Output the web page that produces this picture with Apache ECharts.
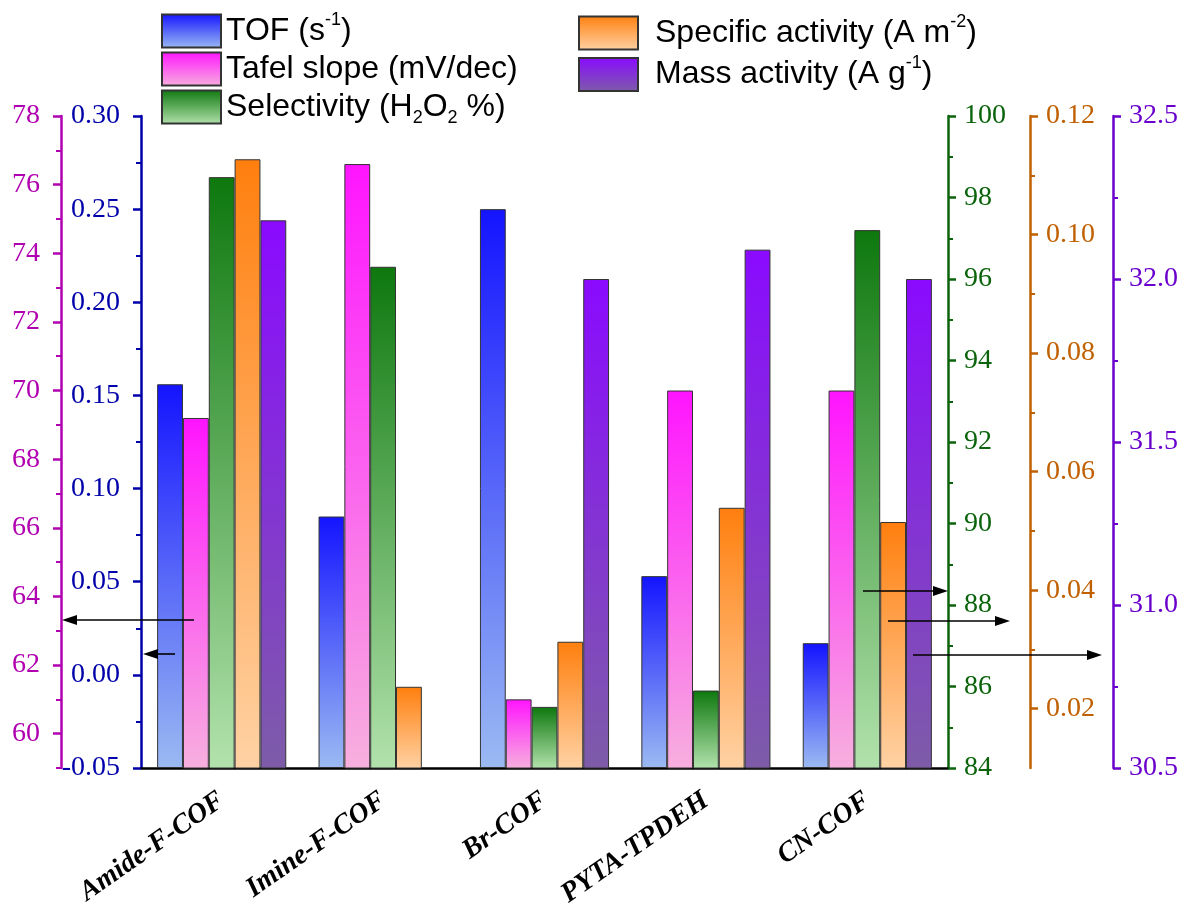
<!DOCTYPE html>
<html>
<head>
<meta charset="utf-8">
<script src="https://cdn.jsdelivr.net/npm/echarts@6/dist/echarts.min.js"></script>
<style>html,body{margin:0;padding:0;background:#fff;}#c{width:1190px;height:904px;}</style>
</head>
<body>
<div id="c"></div>
<script>
const categories = ['Amide-F-COF', 'Imine-F-COF', 'Br-COF', 'PYTA-TPDEH', 'CN-COF'];
const tof = [0.156, 0.085, 0.250, 0.053, 0.017];
const tafel = [69.2, 76.6, 61.0, 70.0, 70.0];
const selectivity = [98.5, 96.3, 85.5, 85.9, 97.2];
const specific = [0.1127, 0.0237, 0.0313, 0.0539, 0.0515];
const mass = [32.18, null, 32.0, 32.09, 32.0];

const tafelTicks = [60, 62, 64, 66, 68, 70, 72, 74, 76, 78];
const tafelMinor = [59, 61, 63, 65, 67, 69, 71, 73, 75, 77];
const specTicks = [0.02, 0.04, 0.06, 0.08, 0.10, 0.12];
const specMinor = [0.03, 0.05, 0.07, 0.09, 0.11];

const C = {
  tof: '#0000aa', tafel: '#b000b0', sel: '#0b640b', spec: '#c06000', mass: '#6a00cc'
};
function grad(top, bottom) {
  return new echarts.graphic.LinearGradient(0, 0, 0, 1, [
    {offset: 0, color: top}, {offset: 1, color: bottom}
  ]);
}
const labelFont = {fontFamily: '"Liberation Serif", "Times New Roman", serif', fontSize: 28};

function lbl(color, margin, extra) {
  return Object.assign({color: color, margin: margin}, labelFont, extra || {});
}
function valAxis(color, extra) {
  const base = {
    type: 'value',
    splitLine: {show: false},
    axisLine: {show: true, lineStyle: {color: color, width: 2.5}},
    axisTick: {show: true, length: 8, lineStyle: {color: color, width: 2.5}},
    minorTick: {show: true, splitNumber: 2, length: 5, lineStyle: {color: color, width: 2}},
    axisLabel: lbl(color, 16)
  };
  return Object.assign(base, extra);
}

const chart = echarts.init(document.getElementById('c'));
const legendText = {
  TOF: '{n|TOF (s}{sup|-1}{n|)}',
  Tafel: '{n|Tafel slope (mV/dec)}',
  Selectivity: '{n|Selectivity (H}{sub|2}{n|O}{sub|2}{n| %)}',
  Specific: '{n|Specific activity (A m}{sup|-2}{n|)}',
  Mass: '{n|Mass activity (A g}{sup|-1}{n|)}'
};
const legendRich = {
  n: {fontFamily: 'Liberation Sans', fontSize: 32, color: '#000', lineHeight: 40},
  sup: {fontFamily: 'Liberation Sans', fontSize: 18, color: '#000', verticalAlign: 'top', lineHeight: 16},
  sub: {fontFamily: 'Liberation Sans', fontSize: 18, color: '#000', verticalAlign: 'bottom', lineHeight: 18}
};
function legend(data, left, top, gap, pad) {
  return {
    data: data, left: left, top: top, orient: 'vertical',
    itemWidth: 59, itemHeight: 33, itemGap: gap, icon: 'rect', padding: 0,
    formatter: n => legendText[n],
    textStyle: {rich: legendRich, padding: [0, 0, 0, pad]}
  };
}

// arrows (annotations): [x1, y, x2]
const arrows = [
  [194, 620, 62], [175, 654, 143],
  [863, 591, 948], [888, 621, 1010], [913, 655, 1102]
];
const graphic = [];
arrows.forEach(a => {
  const dir = a[2] > a[0] ? 1 : -1;
  const tipX = a[2], y = a[1];
  graphic.push({type: 'line', z: 100, shape: {x1: a[0], y1: y, x2: tipX - dir * 10, y2: y},
    style: {stroke: '#000', lineWidth: 1.6}});
  graphic.push({type: 'polygon', z: 100, shape: {points: [[tipX, y], [tipX - dir * 15, y - 5], [tipX - dir * 15, y + 5]]},
    style: {fill: '#000'}});
});

const option = {
  animation: false,
  backgroundColor: '#fff',
  grid: {left: 141, right: 242, top: 116, bottom: 136, outerBoundsMode: 'none', containLabel: false},
  legend: [
    legend(['TOF', 'Tafel', 'Selectivity'], 161, 11, 3, 0),
    legend(['Specific', 'Mass'], 578, 13, 4, 12)
  ],
  xAxis: [
    {type: 'category', data: categories, position: 'bottom',
     axisLine: {onZero: false, lineStyle: {color: '#000', width: 2.5}},
     axisTick: {length: 6, lineStyle: {color: '#000', width: 2}},
     axisLabel: {show: false}},
    {type: 'category', data: categories, position: 'bottom',
     axisLine: {show: false, onZero: false},
     axisTick: {alignWithLabel: true, length: 12, lineStyle: {color: '#000', width: 2.5}},
     axisLabel: {rotate: 35, color: '#000', fontFamily: '"Liberation Serif", "Times New Roman", serif', fontWeight: 'bold',
                 fontStyle: 'italic', fontSize: 28, margin: 30}}
  ],
  yAxis: [
    valAxis(C.tof, {position: 'left', offset: 0, min: -0.05, max: 0.30, interval: 0.05, startValue: -0.05,
      axisLabel: lbl(C.tof, 21, {formatter: v => v.toFixed(2)})}),
    valAxis(C.tafel, {position: 'left', offset: 80, min: 59, max: 78,
      axisTick: {show: true, length: 8, customValues: tafelTicks, lineStyle: {color: C.tafel, width: 2.5}},
      minorTick: {show: false},
      axisLabel: lbl(C.tafel, 21, {customValues: tafelTicks})}),
    valAxis(C.sel, {position: 'right', offset: 0, min: 84, max: 100, interval: 2}),
    valAxis(C.spec, {position: 'right', offset: 82, min: 0.01, max: 0.12,
      axisTick: {show: true, length: 8, customValues: specTicks, lineStyle: {color: C.spec, width: 2.5}},
      minorTick: {show: false},
      axisLabel: lbl(C.spec, 16, {customValues: specTicks, formatter: v => v.toFixed(2)})}),
    valAxis(C.mass, {position: 'right', offset: 165, min: 30.5, max: 32.5, interval: 0.5,
      axisLabel: lbl(C.mass, 16, {formatter: v => v.toFixed(1)})}),
    // minor tick overlays
    {type: 'value', position: 'left', offset: 80, min: 59, max: 78, splitLine: {show: false},
     axisLine: {show: false}, axisLabel: {show: false},
     axisTick: {show: true, length: 5, customValues: tafelMinor, lineStyle: {color: C.tafel, width: 2}}},
    {type: 'value', position: 'right', offset: 82, min: 0.01, max: 0.12, splitLine: {show: false},
     axisLine: {show: false}, axisLabel: {show: false},
     axisTick: {show: true, length: 5, customValues: specMinor, lineStyle: {color: C.spec, width: 2}}}
  ],
  series: [
    {name: 'TOF', type: 'bar', yAxisIndex: 0, data: tof, barGap: '0%', barCategoryGap: '20%',
     itemStyle: {color: grad('#1414ff', '#9bbaf2'), borderColor: '#333', borderWidth: 1}},
    {name: 'Tafel', type: 'bar', yAxisIndex: 1, data: tafel,
     itemStyle: {color: grad('#ff14ff', '#f7b0de'), borderColor: '#333', borderWidth: 1}},
    {name: 'Selectivity', type: 'bar', yAxisIndex: 2, data: selectivity,
     itemStyle: {color: grad('#0e780e', '#b2e2ac'), borderColor: '#333', borderWidth: 1}},
    {name: 'Specific', type: 'bar', yAxisIndex: 3, data: specific,
     itemStyle: {color: grad('#ff7f0e', '#ffd2a4'), borderColor: '#333', borderWidth: 1}},
    {name: 'Mass', type: 'bar', yAxisIndex: 4, data: mass,
     itemStyle: {color: grad('#8a0aff', '#7d5ca8'), borderColor: '#333', borderWidth: 1}}
  ],
  graphic: graphic
};
chart.setOption(option);
</script>
</body>
</html>
